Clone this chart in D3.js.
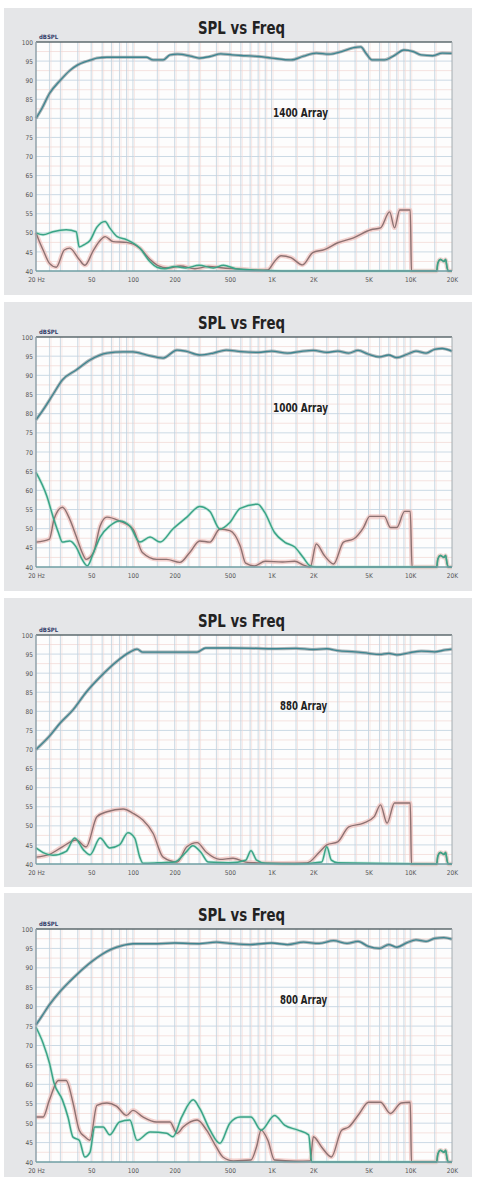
<!DOCTYPE html>
<html>
<head>
<meta charset="utf-8">
<script src="https://cdn.jsdelivr.net/npm/d3@7"></script>
<style>
  body { margin: 0; background: #fff; }
  svg { display: block; }
</style>
</head>
<body>
<svg class="spl-ch"></svg>
<script>
"use strict";

// tick labels
var freqTicks = [20, 50, 100, 200, 500, 1000, 2000, 5000, 10000, 20000];
var freqTickLabels = ['20 Hz', '50', '100', '200', '500', '1K', '2K', '5K', '10K', '20K'];
var splTicks = [40, 45, 50, 55, 60, 65, 70, 75, 80, 85, 90, 95, 100];

var arrayNames = ['1400 Array', '1000 Array', '880 Array', '800 Array'];

// [Hz, dBSPL]
var main1400 = [[20,80],[22,82.5],[25,86.5],[30,90],[35,92.5],[40,94],[45,94.8],[50,95.3],[55,95.8],[65,96],[100,96],[125,96],[140,95.3],[165,95.3],[185,96.6],[210,96.8],[260,96.3],[300,95.8],[360,96.2],[430,96.9],[520,96.6],[650,96.4],[800,96.2],[1000,95.8],[1380,95.3],[1700,96.3],[2100,97.1],[2600,96.8],[3200,97.5],[3900,98.5],[4400,98.7],[4800,97],[5300,95.3],[6500,95.3],[7700,96.5],[9000,97.9],[10500,97.5],[12000,96.6],[14500,96.4],[17000,97.1],[20000,97]];
var green1400 = [[20,50],[22.5,49.5],[26.5,50.3],[33,50.8],[39,50.3],[41,46.3],[45,47],[49,48],[55,51.5],[63,53],[68,51.3],[77,49],[90,48.2],[112,46],[133,42.4],[149,41],[170,40.6],[200,41.2],[240,40.8],[300,41.5],[380,40.8],[450,41.5],[550,40.6],[700,40.3],[900,40.1],[1200,40],[5000,40],[15500,40],[15800,42],[16500,43],[17500,42.5],[18000,43],[18400,41],[18800,40],[20000,40]];
var brown1400 = [[20,50],[21,48],[22.5,45.5],[25,42],[28,41],[32,45.5],[35,46],[41,43],[45,41.5],[52,45.5],[58,48],[63,49],[72,47.7],[90,47.5],[112,46],[133,43],[150,41.5],[180,40.8],[220,41.3],[280,40.6],[350,41.2],[450,40.8],[600,40.5],[800,40.2],[940,40.3],[1050,42.5],[1170,44],[1380,43.5],[1670,41.6],[1980,44.8],[2400,45.6],[3000,47.4],[3900,48.7],[5200,50.8],[6100,51.3],[7100,55.5],[7700,51.3],[8400,56],[10000,56],[10200,40],[15500,40],[15800,42],[16500,43],[17500,42.5],[18000,43],[18400,41],[18800,40],[20000,40]];

var main1000 = [[20,78.4],[22.5,81],[26.5,85],[31,88.8],[39,91.4],[49,94],[65,95.8],[85,96.1],[100,96.1],[126,95.3],[165,94.5],[208,96.6],[240,96.3],[303,95.3],[380,95.8],[470,96.6],[600,96.2],[800,96],[1000,96.3],[1300,95.8],[1600,96.2],[2000,96.5],[2500,96],[3000,96.3],[3600,95.8],[4200,96.5],[5000,95.5],[6000,94.8],[7000,95.3],[8000,94.6],[9500,95.5],[11000,96.3],[13000,95.8],[15000,96.8],[17000,97],[20000,96.3]];
var green1000 = [[20,64.7],[24,58.4],[26.5,53.2],[29,49],[31,46.5],[35,46.8],[39,45.2],[43,42],[47,40.3],[52,43.8],[58,47.8],[68,50.7],[80,52],[95,50.7],[112,46.5],[133,47.8],[157,46.5],[194,49.9],[245,53],[303,55.8],[359,54.5],[424,49.9],[500,51.6],[594,55.3],[795,56.4],[890,54.3],[1050,49],[1240,46.5],[1470,45.2],[1680,42.6],[1900,40.3],[2100,40],[15500,40],[15800,42],[16500,43],[17500,42.5],[18000,43],[18400,41],[18800,40],[20000,40]];
var brown1000 = [[20,46.5],[25,47.3],[27,52.5],[31,55.6],[35,52.5],[39,48],[43,43.8],[46,42],[52,43.8],[58,50.7],[65,53],[80,52],[100,49.9],[117,43.8],[149,42],[175,42],[218,41.2],[257,43.8],[303,46.8],[359,46.5],[424,49.9],[500,49.5],[594,45.5],[650,41],[750,40.3],[900,41.5],[1200,41.3],[1470,41.5],[1700,40.5],[1900,40],[2100,46],[2400,43],[2800,40.8],[3300,46.5],[3900,47.3],[4600,50.3],[5100,53.2],[6500,53.2],[7200,50.3],[8000,50.3],[9100,54.5],[10000,54.5],[10300,40],[15500,40],[15800,42],[16500,43],[17500,42.5],[18000,43],[18400,41],[18800,40],[20000,40]];

var main880 = [[20,70],[25,73.5],[30,77],[37,80.4],[46,85],[58,89],[76,93],[95,95.5],[107,96.3],[118,95.5],[150,95.5],[200,95.5],[290,95.5],[335,96.6],[500,96.6],[800,96.5],[1000,96.4],[1500,96.5],[2000,96.2],[2500,96.4],[3000,95.9],[4000,95.6],[5000,95.2],[6000,94.9],[7000,95.2],[8000,94.8],[10000,95.4],[12000,95.8],[15000,95.6],[18000,96.1],[20000,96.3]];
var green880 = [[20,44.2],[22.5,43],[26.5,42.3],[33,43.3],[38,46.8],[44,43.7],[49,42.4],[58,46.8],[68,44.2],[80,45],[92,48.2],[103,46.8],[112,41.8],[118,40.2],[150,40.3],[200,40.5],[240,43],[270,44.8],[310,43],[350,40.5],[500,40.3],[650,41],[710,43.5],[780,41],[900,40.2],[1500,40],[2300,40.5],[2500,44.5],[2700,41],[3000,40.3],[15500,40],[15800,42],[16500,43],[17500,42.5],[18000,43],[18400,41],[18800,40],[20000,40]];
var brown880 = [[20,41.8],[25,42.5],[31,44.5],[39,46.3],[46,44.5],[55,52.4],[65,53.7],[85,54.4],[100,53.3],[118,51.5],[140,48],[165,41.8],[208,40.5],[245,44.5],[290,45.6],[340,43],[424,41.2],[527,41.5],[650,40.5],[800,40.3],[1200,40.2],[1800,40.3],[2200,43],[2500,45],[3000,45.8],[3600,49.7],[4600,50.7],[5500,52.4],[6100,55.5],[6800,50.7],[7700,56],[10000,56],[10200,40],[15500,40],[15800,42],[16500,43],[17500,42.5],[18000,43],[18400,41],[18800,40],[20000,40]];

var main800 = [[20,75.3],[22,77.5],[25,80.5],[30,84],[35,86.5],[40,88.5],[50,91.5],[60,93.5],[70,94.8],[85,95.8],[100,96.2],[150,96.2],[200,96.4],[300,96.2],[400,96.6],[500,96.3],[700,96],[1000,96.4],[1300,96],[1700,96.6],[2200,96.3],[2800,97],[3500,96.3],[4200,96.8],[5000,95.5],[6000,95],[7000,96],[8000,95.3],[9500,96.5],[11000,97.2],[13000,96.8],[15000,97.6],[17500,97.8],[20000,97.4]];
var green800 = [[20,74.7],[22.5,70.6],[25,65.5],[27,60.3],[31,56],[34,51.6],[37,46.4],[41,45.6],[45,41.3],[49,42.5],[53,49],[61,49],[68,47],[80,50.3],[95,50.8],[107,45.6],[133,47.7],[175,47.4],[194,46.5],[225,51.6],[272,56],[303,53.8],[360,48.2],[424,44.8],[500,50],[594,51.6],[710,51.6],[840,48.2],[1050,52],[1240,49.5],[1550,48.2],[1850,47],[1950,40],[2100,40],[15500,40],[15800,42],[16500,43],[17500,42.5],[18000,43],[18400,41],[18800,40],[20000,40]];
var brown800 = [[20,51.6],[22.5,51.6],[25,56],[29,61],[33,61],[37,55.2],[41,48.2],[45,46.5],[49,45.6],[55,54.6],[65,55.2],[76,54.4],[90,52],[100,53.3],[118,51.6],[148,50.3],[185,50.3],[208,47.4],[230,49],[290,50.8],[340,48.2],[400,43.8],[445,41.3],[530,40.3],[710,40.5],[780,44],[840,48.2],[940,45.6],[1050,40.5],[1500,40.2],[1900,40.3],[2000,46.5],[2300,43.8],[2700,41.3],[3200,48.2],[3600,49],[4300,52.5],[5000,55.4],[6100,55.4],[7200,52.5],[8600,55.2],[10000,55.4],[10200,40],[15500,40],[15800,42],[16500,43],[17500,42.5],[18000,43],[18400,41],[18800,40],[20000,40]];

var panels = [
  {name: arrayNames[0], main: main1400, green: green1400, brown: brown1400},
  {name: arrayNames[1], main: main1000, green: green1000, brown: brown1000},
  {name: arrayNames[2], main: main880, green: green880, brown: brown880},
  {name: arrayNames[3], main: main800, green: green800, brown: brown800}
];

// layout
var panelTop = [8, 302, 598, 893];
var panelBottom = [295, 591, 887, 1177];
var plotTop = [42, 337, 635, 929];
var plotBottom = [271, 567, 864, 1162];
var plotLeft = 36, plotRight = 452;
var narrow = '"Liberation Sans Narrow", "DejaVu Sans Condensed", "Liberation Sans", sans-serif';

var svg = d3.select('.spl-ch')
  .attr('width', 478)
  .attr('height', 1177);

var x = d3.scaleLog()
  .domain([20, 20000])
  .range([plotLeft, plotRight]);

// minor grid frequencies
var gridFreqs = [];
[10, 100, 1000, 10000].forEach(function(dec){
  [1, 1.5, 2, 2.5, 3, 4, 5, 6, 7, 8, 9].forEach(function(m){
    var f = dec * m;
    if (f > 20 && f < 20000) gridFreqs.push(f);
  });
});
var gridSpl = [42.5, 47.5, 52.5, 57.5, 62.5, 67.5, 72.5, 77.5, 82.5, 87.5, 92.5, 97.5];

panels.forEach(function(p, i){
  var y = d3.scaleLinear()
    .domain([40, 100])
    .range([plotBottom[i], plotTop[i]]);

  var g = svg.append('g').attr('class', 'panel');

  g.append('rect')
    .attr('x', 4)
    .attr('y', panelTop[i])
    .attr('width', 468)
    .attr('height', panelBottom[i] - panelTop[i])
    .style('fill', '#e5e6e8');

  g.append('rect')
    .attr('x', plotLeft)
    .attr('y', plotTop[i])
    .attr('width', plotRight - plotLeft)
    .attr('height', plotBottom[i] - plotTop[i])
    .style('fill', '#fdfdfd');

  var grid = g.append('g');

  // faint half-step lines
  grid.selectAll('.hm')
    .data(gridSpl)
    .enter().append('line')
      .attr('x1', plotLeft).attr('x2', plotRight)
      .attr('y1', function(d){return y(d)}).attr('y2', function(d){return y(d)})
      .style('stroke', '#f5e2df')
      .style('stroke-width', 1);

  grid.selectAll('.h')
    .data(splTicks.slice(1, -1))
    .enter().append('line')
      .attr('x1', plotLeft).attr('x2', plotRight)
      .attr('y1', function(d){return y(d)}).attr('y2', function(d){return y(d)})
      .style('stroke', '#cbdae5')
      .style('stroke-width', 1);

  grid.selectAll('.vp')
    .data(gridFreqs)
    .enter().append('line')
      .attr('x1', function(d){return x(d) + 1.5}).attr('x2', function(d){return x(d) + 1.5})
      .attr('y1', plotTop[i]).attr('y2', plotBottom[i])
      .style('stroke', '#f4dad6')
      .style('stroke-opacity', 0.6);

  grid.selectAll('.v')
    .data(gridFreqs)
    .enter().append('line')
      .attr('x1', function(d){return x(d)}).attr('x2', function(d){return x(d)})
      .attr('y1', plotTop[i]).attr('y2', plotBottom[i])
      .style('stroke', '#c3d3df')
      .style('stroke-opacity', 0.85);

  // curves
  var line = d3.line()
    .x(function(d){return x(d[0])})
    .y(function(d){return y(d[1])})
    .curve(d3.curveMonotoneX);

  var curves = g.append('g');

  curves.append('path').datum(p.brown)
    .attr('d', line)
    .style('fill', 'none').style('stroke', '#f0bdb8').style('stroke-width', 4.5).style('stroke-opacity', 0.65);
  curves.append('path').datum(p.green)
    .attr('d', line)
    .style('fill', 'none').style('stroke', '#a9dccb').style('stroke-width', 3.2).style('stroke-opacity', 0.55);
  curves.append('path').datum(p.brown)
    .attr('d', line)
    .style('fill', 'none').style('stroke', '#8d7272').style('stroke-width', 1.4);
  curves.append('path').datum(p.green)
    .attr('d', line)
    .style('fill', 'none').style('stroke', '#3aa487').style('stroke-width', 1.5);
  curves.append('path').datum(p.main)
    .attr('d', line)
    .style('fill', 'none').style('stroke', '#8b979b').style('stroke-width', 3.2).style('stroke-opacity', 0.7);
  curves.append('path').datum(p.main)
    .attr('d', line)
    .style('fill', 'none').style('stroke', '#3d8590').style('stroke-width', 1.3);

  // frame
  g.append('line')
    .attr('x1', plotLeft).attr('x2', plotRight)
    .attr('y1', plotTop[i]).attr('y2', plotTop[i])
    .style('stroke', '#5d6a6e').style('stroke-width', 1.5);
  g.append('line')
    .attr('x1', plotRight).attr('x2', plotRight)
    .attr('y1', plotTop[i]).attr('y2', plotBottom[i])
    .style('stroke', '#a4acb0');
  g.append('line')
    .attr('x1', plotLeft).attr('x2', plotLeft)
    .attr('y1', plotTop[i]).attr('y2', plotBottom[i])
    .style('stroke', '#8fa0aa').style('stroke-width', 1.5);
  g.append('line')
    .attr('x1', plotLeft).attr('x2', plotRight)
    .attr('y1', plotBottom[i]).attr('y2', plotBottom[i])
    .style('stroke', '#6e9ea3').style('stroke-width', 1.5);

  // axes
  var yAxis = d3.axisLeft(y)
    .tickValues(splTicks)
    .tickSize(0)
    .tickPadding(3)
    .tickFormat(function(d){return String(d)});

  g.append('g')
    .attr('transform', 'translate(' + plotLeft + ',0)')
    .call(yAxis)
    .call(function(a){a.select('.domain').remove()})
    .selectAll('text')
      .style('font-family', narrow)
      .style('font-size', '6.5px')
      .style('fill', '#555');

  var xAxis = d3.axisBottom(x)
    .tickValues(freqTicks)
    .tickSize(0)
    .tickPadding(6)
    .tickFormat(function(d, k){return freqTickLabels[k]});

  g.append('g')
    .attr('transform', 'translate(0,' + plotBottom[i] + ')')
    .call(xAxis)
    .call(function(a){a.select('.domain').remove()})
    .selectAll('text')
      .style('font-family', narrow)
      .style('font-size', '6.5px')
      .style('fill', '#555');

  g.append('text')
    .attr('x', plotLeft + 3)
    .attr('y', plotTop[i] - 3)
    .text('dBSPL')
    .style('font-family', narrow)
    .style('font-weight', 'bold')
    .style('font-size', '6px')
    .style('fill', '#34406a');

  g.append('text')
    .attr('x', 198)
    .attr('y', plotTop[i] - 8)
    .attr('textLength', 87)
    .attr('lengthAdjust', 'spacingAndGlyphs')
    .text('SPL vs Freq')
    .style('font-family', narrow)
    .style('font-weight', 'bold')
    .style('font-size', '18px')
    .style('fill', '#222');

  var short = p.name.length < 10;
  g.append('text')
    .attr('x', short ? 280 : 273)
    .attr('y', plotTop[i] + 75)
    .attr('textLength', short ? 47 : 55)
    .attr('lengthAdjust', 'spacingAndGlyphs')
    .text(p.name)
    .style('font-family', narrow)
    .style('font-weight', 'bold')
    .style('font-size', '13px')
    .style('fill', '#222');
});
</script>
</body>
</html>
